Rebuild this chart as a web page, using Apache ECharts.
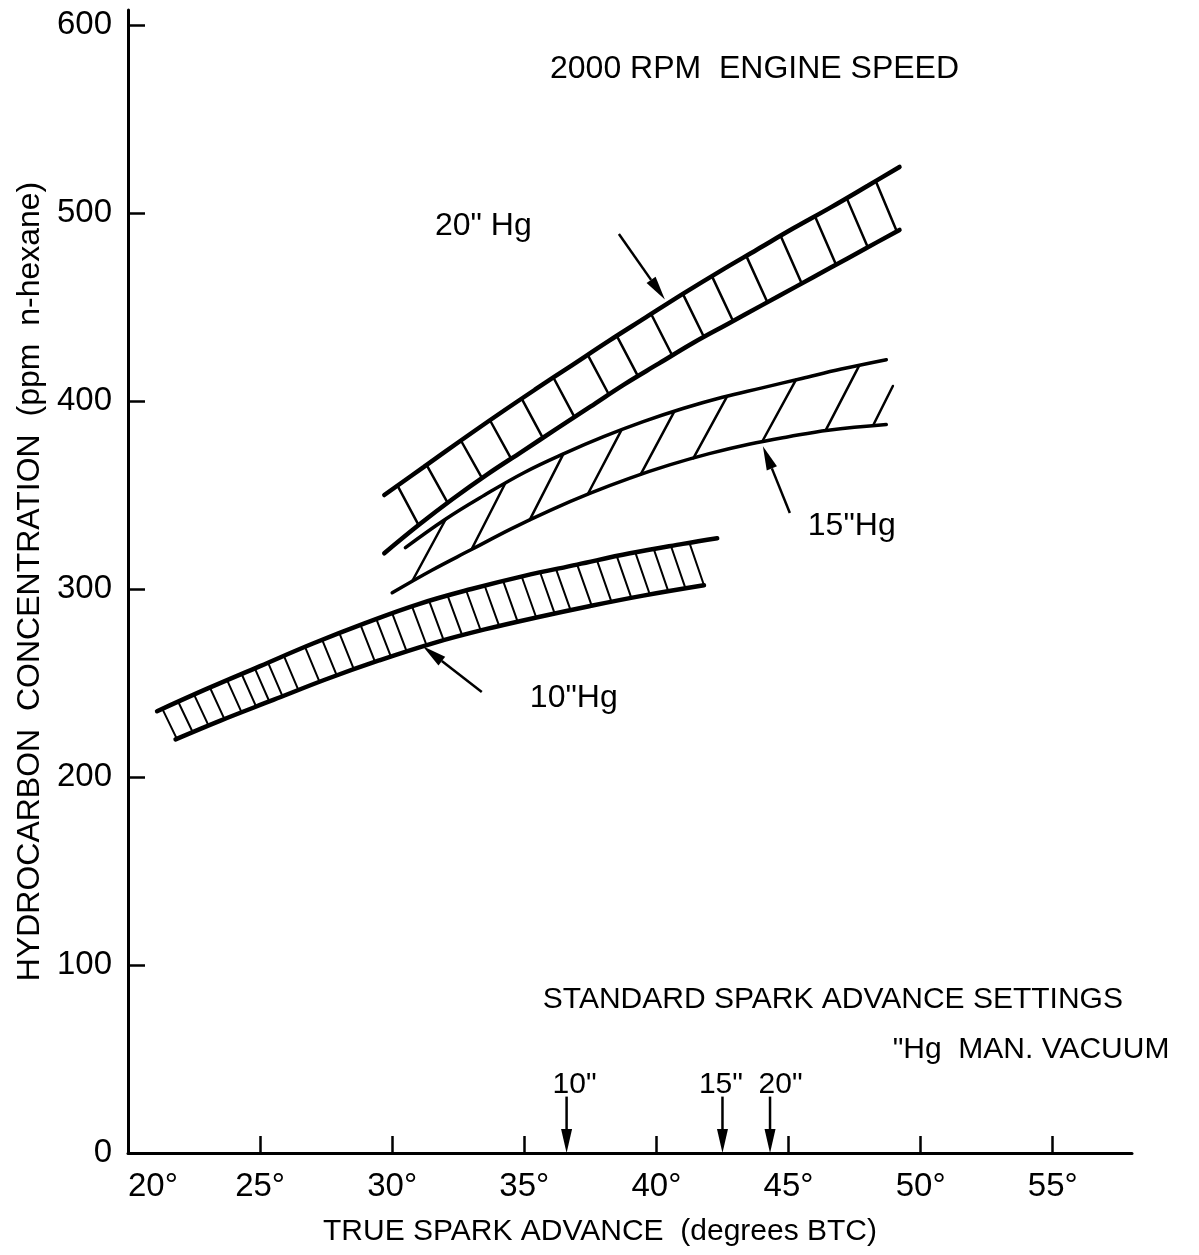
<!DOCTYPE html>
<html><head><meta charset="utf-8">
<script src="https://cdn.jsdelivr.net/npm/echarts@6/dist/echarts.min.js"></script>
<style>html,body{margin:0;padding:0;background:#fff}#c{width:1199px;height:1255px}</style>
</head><body><div id="c"></div>
<script>
// ---- axis ticks ----
const xTicks = [20, 25, 30, 35, 40, 45, 50, 55];
const xTickMarks = [25, 30, 35, 40, 45, 50, 55];
const yTicks = [0, 100, 200, 300, 400, 500, 600];
const yTickMarks = [100, 200, 300, 400, 500, 600];

// ---- band boundaries [spark advance deg, ppm] ----
const hg20Upper = [[29.7,350],[31.2,365],[32.6,379],[34.0,392.7],[35.4,406],[36.8,419],[38.2,432],[39.6,444.5],[41.0,457],[42.4,469],[43.8,480.5],[45.2,492],[46.6,503],[48.0,514.5],[49.2,524.5]];
const hg20Lower = [[29.7,319],[31.0,334],[32.3,348],[33.6,361],[34.9,373],[36.2,385],[37.5,397],[38.8,409],[40.1,420],[41.4,431],[42.7,441],[44.0,451],[45.3,461],[46.6,471],[47.9,481],[49.2,491]];
const hg15Upper = [[30.5,322],[32.0,337],[33.5,350],[35.0,362],[36.5,372],[38.0,381],[39.5,389],[41.0,396],[42.5,402],[44.0,407],[45.5,412],[47.0,417],[48.7,422]];
const hg15Lower = [[30.0,298],[31.5,310],[33.0,321],[34.5,332],[36.0,342],[37.5,351],[39.0,359],[40.5,366],[42.0,372],[43.5,377],[45.0,381],[46.5,384.5],[48.7,387.5]];
const hg10Upper = [[21.1,235],[23.0,247],[25.0,259],[27.0,271],[29.0,282],[31.0,292],[33.0,300],[35.0,307],[37.0,313],[39.0,319],[41.0,324],[42.3,327]];
const hg10Lower = [[21.8,220],[23.5,230],[25.5,241],[27.5,252],[29.5,262],[31.5,271],[33.5,278.5],[35.5,285],[37.5,291],[39.5,296.5],[41.8,302]];

// ---- hatching (positions along band) ----
const hg20HatchTops = [30.2,31.3,32.6,33.7,34.9,36.1,37.4,38.5,39.8,41.0,42.1,43.4,44.7,46.0,47.2,48.3];
const hg20Slant = 0.8;
const hg15HatchBottoms = [30.75,33.0,35.2,37.4,39.4,41.4,44.0,46.4];
const hg15Slant = 1.28;
const hg15Stub = [48.2, 387, 48.95, 408];
const hg10HatchTops = [21.3,21.9,22.5,23.1,23.75,24.3,24.8,25.3,25.9,26.7,27.35,28.0,28.8,29.4,30.0,30.75,31.4,32.1,32.8,33.5,34.2,34.9,35.6,36.2,37.0,37.75,38.5,39.2,39.9,40.55,41.25];
const hg10Slant = 0.55;

// ---- annotation arrows [x1,y1,x2(tip),y2(tip)] ----
const bandArrows = [[38.58,488.8,40.32,454],[45.05,340.4,44.03,376],[33.39,245.2,31.16,269.5]];
const stdSettingX = [36.6, 42.5, 44.3];
const stdArrowTop = 30;

// ---- annotation texts ----
const annoText  = ['20" Hg', '15"Hg', '10"Hg', 'STANDARD SPARK ADVANCE SETTINGS', '"Hg  MAN. VACUUM', '10"', '15"', '20"'];
const annoX     = [31.62, 45.73, 35.21, 35.70, 48.94, 36.9, 42.44, 44.7];
const annoY     = [493, 333.5, 242, 81.4, 54.8, 36.5, 36.5, 36.5];
const annoAlign = ['left','left','left','left','left','center','center','center'];
const annoSize  = [32, 32, 32, 30, 30, 30, 30, 30];

const FONT = '"Liberation Sans", Arial, sans-serif';

function interp(curve, x) {
  if (x <= curve[0][0]) return curve[0][1];
  for (let i = 1; i < curve.length; i++) {
    if (x <= curve[i][0]) {
      const a = curve[i-1], b = curve[i];
      return a[1] + (b[1]-a[1]) * (x-a[0]) / (b[0]-a[0]);
    }
  }
  return curve[curve.length-1][1];
}

const hatch20 = hg20HatchTops.map(t => [t, interp(hg20Upper,t), t+hg20Slant, interp(hg20Lower,t+hg20Slant)]);
const hatch15 = hg15HatchBottoms.map(b => [b, interp(hg15Lower,b), b+hg15Slant, interp(hg15Upper,b+hg15Slant)]).concat([hg15Stub]);
const hatch10 = hg10HatchTops.map(t => [t, interp(hg10Upper,t), t+hg10Slant, interp(hg10Lower,t+hg10Slant)]);

function hatchSeries(data, w) {
  return {
    type: 'custom', data: data, encode: {x:[0,2], y:[1,3]}, silent: true,
    renderItem: (p, api) => {
      const a = api.coord([api.value(0), api.value(1)]);
      const b = api.coord([api.value(2), api.value(3)]);
      return {type:'line', shape:{x1:a[0],y1:a[1],x2:b[0],y2:b[1]}, style:{stroke:'#000', lineWidth:w, lineCap:'round'}};
    }
  };
}
function boundary(data, w) {
  return {type:'line', data:data, showSymbol:false, smooth:0.4, silent:true,
    lineStyle:{color:'#000', width:w, cap:'round'}};
}

const arrowData = bandArrows.concat(stdSettingX.map(x => [x, stdArrowTop, x, 0]));

const option = {
  animation: false,
  backgroundColor: '#fff',
  title: {text: '2000 RPM  ENGINE SPEED', left: 545, top: 48,
    textStyle: {fontSize: 32, fontWeight: 'normal', color: '#000', fontFamily: FONT}},
  grid: {left: 128, right: 67, top: 10, bottom: 102},
  xAxis: {
    type: 'value', min: 20, max: 58, interval: 5,
    axisLine: {show: true, lineStyle: {color: '#000', width: 3}},
    axisTick: {show: true, inside: true, length: 17, lineStyle: {color: '#000', width: 2.5}, customValues: xTickMarks},
    axisLabel: {customValues: xTicks, formatter: v => v + '°', fontSize: 33, color: '#000', margin: 17, fontFamily: FONT, alignMinLabel: 'left'},
    splitLine: {show: false},
    name: 'TRUE SPARK ADVANCE  (degrees BTC)', nameLocation: 'middle', nameGap: 64,
    nameTextStyle: {fontSize: 30, color: '#000', fontFamily: FONT, padding: [0, 60, 0, 0]}
  },
  yAxis: {
    type: 'value', min: 0, max: 608, interval: 100,
    axisLine: {show: true, lineStyle: {color: '#000', width: 3}},
    axisTick: {show: true, inside: true, length: 17, lineStyle: {color: '#000', width: 2.5}, customValues: yTickMarks},
    axisLabel: {customValues: yTicks, fontSize: 33, color: '#000', margin: 16, fontFamily: FONT},
    splitLine: {show: false},
    name: 'HYDROCARBON  CONCENTRATION  (ppm  n-hexane)', nameLocation: 'middle', nameGap: 82,
    nameTextStyle: {fontSize: 32, color: '#000', fontFamily: FONT}
  },
  series: [
    boundary(hg20Upper, 4.5), boundary(hg20Lower, 4.5),
    boundary(hg15Upper, 3.5), boundary(hg15Lower, 3.5),
    boundary(hg10Upper, 4.5), boundary(hg10Lower, 4.5),
    hatchSeries(hatch20, 2.5), hatchSeries(hatch15, 2.5), hatchSeries(hatch10, 2),
    {
      type: 'custom', data: arrowData, encode: {x:[0,2], y:[1,3]}, silent: true,
      renderItem: (p, api) => {
        const a = api.coord([api.value(0), api.value(1)]);
        const b = api.coord([api.value(2), api.value(3)]);
        const dx = b[0]-a[0], dy = b[1]-a[1], L = Math.hypot(dx, dy);
        const ux = dx/L, uy = dy/L, hl = 24, hw = 5.5;
        const bx = b[0]-ux*hl, by = b[1]-uy*hl;
        return {type:'group', children:[
          {type:'line', shape:{x1:a[0],y1:a[1],x2:bx,y2:by}, style:{stroke:'#000', lineWidth:2.5}},
          {type:'polygon', shape:{points:[[b[0],b[1]],[bx-uy*hw,by+ux*hw],[bx+uy*hw,by-ux*hw]]}, style:{fill:'#000'}}
        ]};
      }
    },
    {
      type: 'custom', data: annoX.map((x,i) => [x, annoY[i]]), encode: {x:0, y:1}, silent: true,
      renderItem: (p, api) => {
        const i = p.dataIndex;
        const c = api.coord([api.value(0), api.value(1)]);
        return {type:'text', x:c[0], y:c[1], style:{text: annoText[i], fontSize: annoSize[i], fontFamily: FONT,
          fill:'#000', align: annoAlign[i], verticalAlign:'middle'}};
      }
    }
  ]
};
const chart = echarts.init(document.getElementById('c'), null, {renderer: 'canvas'});
chart.setOption(option);
</script></body></html>
